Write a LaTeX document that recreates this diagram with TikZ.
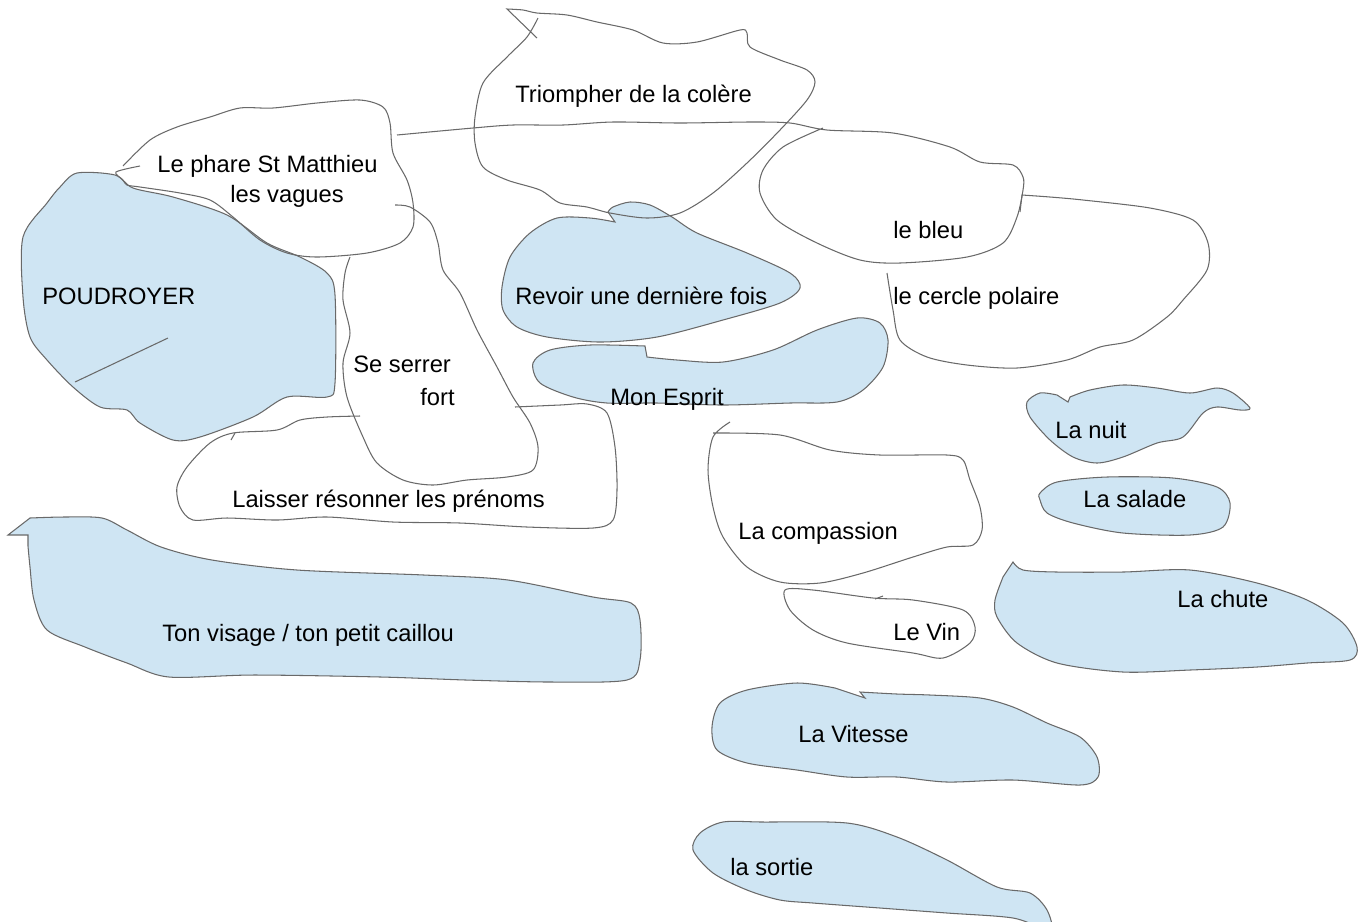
\documentclass[tikz,border=0pt]{standalone}
\usepackage{fontspec}
\setmainfont{Liberation Sans}
\usepackage{tikz}
\usetikzlibrary{positioning}

\definecolor{blobblue}{RGB}{207,229,243}
\definecolor{strokegray}{RGB}{105,105,105}

\tikzset{
  edge/.style={draw=strokegray, line width=0.6pt},
  blob/.style={edge, fill=blobblue},
  lbl/.style={inner sep=0pt, anchor=base west, font=\fontsize{13.5}{16}\selectfont}
}

\begin{document}
\begin{tikzpicture}[x=0.02cm, y=-0.02cm]
    \useasboundingbox (0,0) rectangle (1364,921);
    \clip (0,0) rectangle (1364,921);

    % Poudroyer
    \filldraw[blob] plot[smooth cycle] coordinates {(115,175) (133,188) (173,197) (227,215) (267,243) (300,257) (327,273) (335,295) (335,383) (327,397) (287,397) (253,417) (200,437) (173,440) (140,423) (127,410) (100,407) (73,387) (47,360) (30,337) (23,297) (23,237) (47,203) (60,187) (77,173)};
    \draw[edge] (75,382) -- (168,338);

    % Revoir une derniere fois
    \filldraw[blob] plot[smooth] coordinates {(615,222) (590,218) (557,218) (530,233) (510,257) (502,287) (503,310) (517,327) (547,337) (600,342) (657,337) (723,320) (780,303) (800,288) (790,273) (747,253) (697,233) (672,217) (650,205) (630,202) (613,207) (608,212)} -- cycle;

    % Mon Esprit
    \filldraw[blob] plot[smooth] coordinates {(647,357) (677,360) (723,362) (773,350) (817,330) (857,318) (880,323) (888,340) (883,367) (863,390) (837,402) (790,403) (723,405) (657,403) (607,403) (573,397) (540,383) (533,363) (550,350) (590,345) (645,346)} -- cycle;

    % Ton visage
    \filldraw[blob] plot[smooth] coordinates {(30,518) (64,517) (102,518) (127,530) (161,547) (212,560) (297,570) (424,575) (508,580) (593,597) (631,603) (640,620) (640,660) (627,680) (551,682) (466,680) (381,677) (254,675) (169,677) (127,663) (85,647) (47,630) (34,600) (30,567) (28,546)} -- (28,535) -- (8,535) -- cycle;

    % La nuit, la salade, la chute
    \filldraw[blob] plot[smooth] coordinates {(1070,397) (1090,390) (1123,385) (1157,388) (1190,393) (1217,388) (1233,393) (1250,408) (1240,410) (1217,407) (1203,413) (1183,437) (1157,443) (1123,457) (1097,463) (1073,457) (1050,440) (1030,417) (1027,402) (1040,393) (1057,395)} -- (1068,402) -- cycle;
    \filldraw[blob] plot[smooth cycle] coordinates {(1040,493) (1057,482) (1107,477) (1173,478) (1217,487) (1230,503) (1223,527) (1190,535) (1123,533) (1073,523) (1047,513) (1040,500)};
    \filldraw[blob] plot[smooth] coordinates {(1013,562) (1023,570) (1057,572) (1123,572) (1190,570) (1257,583) (1307,600) (1343,623) (1357,647) (1350,660) (1307,663) (1257,667) (1190,670) (1123,672) (1057,663) (1017,643) (997,617) (995,600) (1003,577)} -- cycle;

    % La Vitesse, la sortie
    \filldraw[blob] plot[smooth] coordinates {(860,692) (897,694) (930,695) (980,698) (1013,707) (1047,723) (1080,737) (1097,757) (1098,777) (1080,785) (1013,780) (947,782) (897,777) (847,777) (797,770) (747,763) (717,750) (712,727) (720,703) (747,690) (797,683) (835,688)} -- (865,698) -- cycle;
    \filldraw[blob] plot[smooth cycle] coordinates {(693,850) (700,833) (723,822) (763,822) (847,823) (897,837) (947,860) (997,887) (1030,893) (1047,910) (1050,930) (1013,918) (947,913) (880,908) (813,903) (780,900) (747,890) (713,873)};

    % Le phare
    \draw[edge] plot[smooth] coordinates {(140,166) (116,172) (123,180) (127,185) (140,187) (180,193) (210,200) (233,217) (260,240) (287,253) (317,257) (367,253) (400,243) (413,227) (413,203) (407,180) (393,153) (390,123) (383,107) (360,100) (317,103) (273,108) (240,108) (210,117) (177,127) (150,140) (123,166)};

    % Triompher
    \draw[edge] (537,38) -- (507,9) -- plot[smooth] coordinates {(507,9) (523,10) (537,13) (567,15) (597,22) (633,30) (663,43) (697,42) (740,30) (747,33) (750,47) (780,60) (807,70) (815,82) (807,100) (780,130) (747,163) (713,193) (680,213) (647,218) (610,213) (587,207) (560,203) (540,190) (507,180) (483,167) (475,143) (475,117) (483,83) (507,57) (527,37) (538,18)};

    % le bleu
    \draw[edge] plot[smooth] coordinates {(397,135) (473,128) (513,125) (563,125) (613,122) (680,123) (750,122) (790,123) (827,130) (893,133) (950,147) (980,162) (1013,165) (1023,177) (1023,190) (1017,217) (1003,243) (967,257) (900,263) (860,260) (817,243) (777,220) (760,193) (763,170) (783,147) (823,128)};

    % le cercle polaire
    \draw[edge] (1020,212) -- (1022,195) -- plot[smooth] coordinates {(1022,195) (1050,197) (1083,200) (1150,208) (1193,220) (1208,243) (1207,270) (1183,300) (1167,317) (1133,340) (1100,347) (1067,360) (1017,368) (967,365) (927,357) (900,340) (893,310) (887,273)};

    % Se serrer
    \draw[edge] plot[smooth] coordinates {(395,205) (410,207) (430,222) (438,243) (443,270) (460,293) (477,330) (497,367) (513,397) (530,423) (538,447) (533,470) (507,477) (467,480) (433,485) (403,480) (377,463) (363,437) (347,397) (343,363) (350,333) (343,300) (345,273) (350,257)};

    % Laisser
    \draw[edge] plot[smooth] coordinates {(515,407) (560,405) (587,404) (607,413) (615,447) (617,490) (613,520) (593,528) (527,527) (460,523) (393,522) (327,517) (277,520) (227,518) (193,520) (180,507) (177,487) (187,467) (210,443) (233,433) (277,430) (300,420) (327,417) (360,416)};
    \draw[edge] (231,440) -- (235,433);

    % La compassion
    \draw[edge] plot[smooth] coordinates {(713,433) (780,435) (830,450) (880,455) (947,455) (963,460) (970,480) (980,507) (982,530) (973,545) (947,547) (913,557) (863,573) (820,583) (780,582) (747,567) (723,537) (713,507) (708,470) (713,437) (730,422)};

    % Le Vin
    \draw[edge] plot[smooth cycle] coordinates {(785,590) (813,590) (873,598) (913,600) (963,610) (975,627) (970,643) (943,658) (913,653) (847,643) (813,630) (790,610)};
    \draw[edge] (875,599) -- (883,596);

    % Labels
    \node[lbl] (triompher) at (515,102) {Triompher de la colère};
    \node[lbl] (phare) at (157,172) {Le phare St Matthieu};
    \node[lbl] (vagues) at (230,202) {les vagues};
    \node[lbl] (poudroyer) at (42,304) {POUDROYER};
    \node[lbl] (revoir) at (515,304) {Revoir une dernière fois};
    \node[lbl] (bleu) at (893,238) {le bleu};
    \node[lbl] (polaire) at (893,304) {le cercle polaire};
    \node[lbl] (serrer) at (353,372) {Se serrer};
    \node[lbl] (fort) at (420,405) {fort};
    \node[lbl] (esprit) at (610,405) {Mon Esprit};
    \node[lbl] (nuit) at (1055,438) {La nuit};
    \node[lbl] (salade) at (1083,507) {La salade};
    \node[lbl] (laisser) at (232,507) {Laisser résonner les prénoms};
    \node[lbl] (compassion) at (738,539) {La compassion};
    \node[lbl] (chute) at (1177,607) {La chute};
    \node[lbl] (visage) at (162,641) {Ton visage / ton petit caillou};
    \node[lbl] (vin) at (893,640) {Le Vin};
    \node[lbl] (vitesse) at (798,742) {La Vitesse};
    \node[lbl] (sortie) at (730,875) {la sortie};

\end{tikzpicture}
\end{document}
